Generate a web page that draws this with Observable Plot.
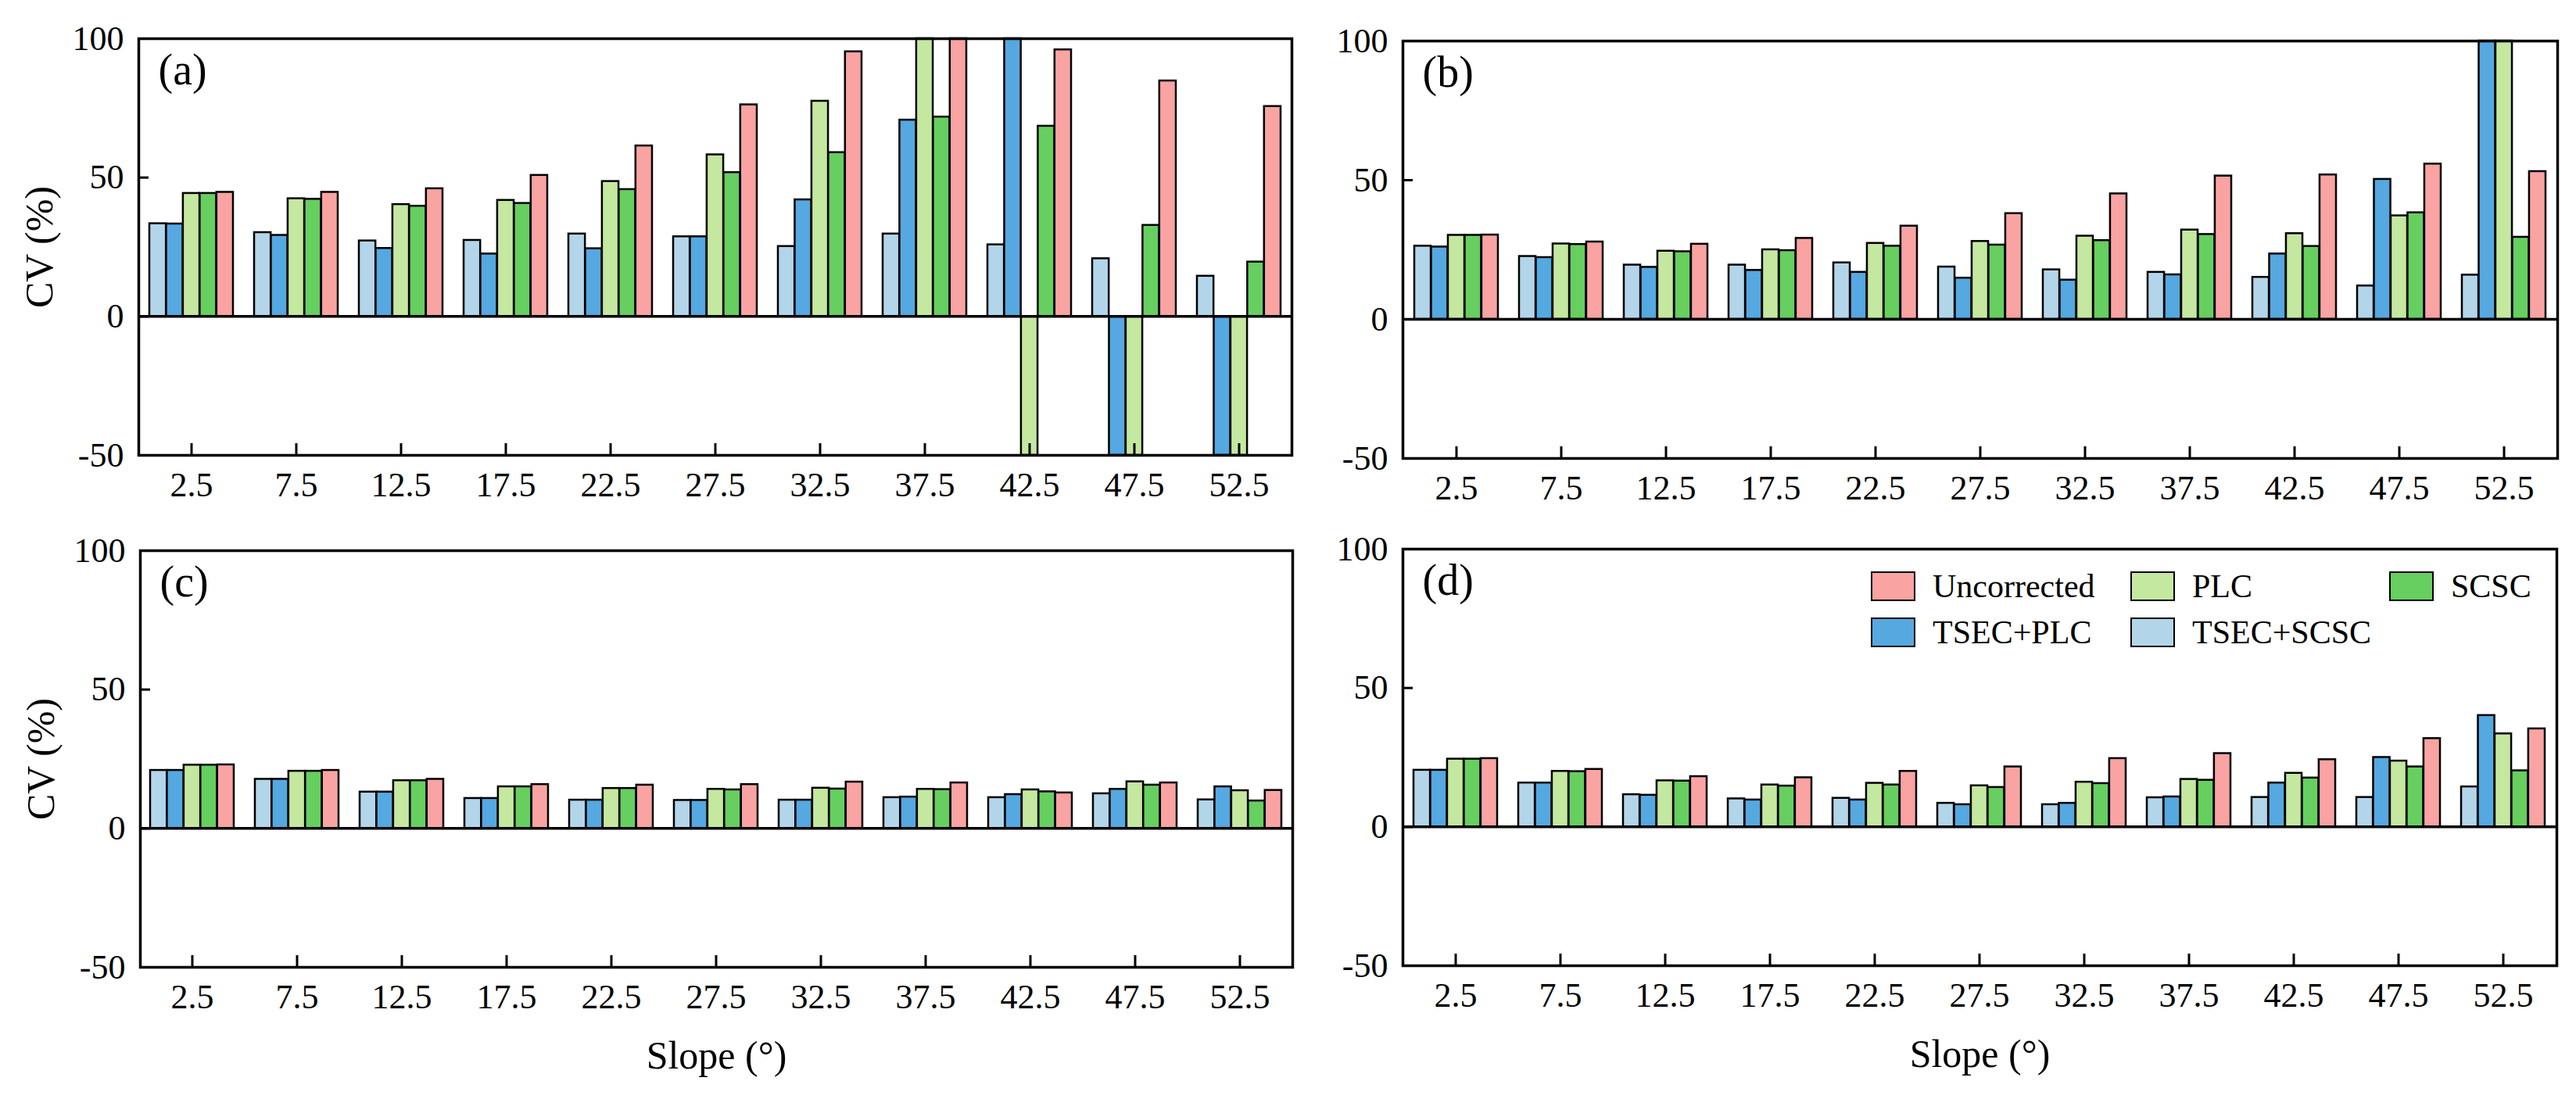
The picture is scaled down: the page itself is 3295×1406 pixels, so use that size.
<!DOCTYPE html>
<html>
<head>
<meta charset="utf-8">
<script src="https://cdn.jsdelivr.net/npm/d3@7"></script>
<script src="https://cdn.jsdelivr.net/npm/@observablehq/plot@0.6"></script>
<style>
  html, body { margin: 0; padding: 0; background: #fff; }
  #root { position: relative; width: 3295px; height: 1406px; overflow: hidden; background: #fff;
          font-family: "Liberation Serif", "Times New Roman", serif; color: #000; }
  .panel { position: absolute; }
  #legend { position: absolute; left: 2393px; top: 731px; display: grid;
            grid-template-columns: 332px 331px 220px; grid-auto-rows: 59px; z-index: 5; }
  .item { display: flex; align-items: center; height: 38px; font-size: 42px; line-height: 38px; white-space: nowrap; }
  .sw { width: 57px; height: 38px; box-sizing: border-box; border: 2.5px solid #000; margin-right: 22px; flex: none; }
</style>
</head>
<body>
<div id="root"></div>
<script>
// ---------- data ----------
const slopes = ["2.5", "7.5", "12.5", "17.5", "22.5", "27.5", "32.5", "37.5", "42.5", "47.5", "52.5"];
const seriesNames = ["TSEC+SCSC", "TSEC+PLC", "PLC", "SCSC", "Uncorrected"];
const seriesColors = ["#b3d5ea", "#55a8e0", "#c5e8a0", "#66cf5f", "#f9a3a3"];
const yTicks = [-50, 0, 50, 100];
const legendOrder = ["Uncorrected", "PLC", "SCSC", "TSEC+PLC", "TSEC+SCSC"];

// panel (a) — values beyond the axis range run off the chart
const aTsecScsc = [33.4, 30.2, 27.2, 27.4, 29.7, 28.7, 25.2, 29.7, 25.8, 20.8, 14.5];
const aTsecPlc  = [33.3, 29.2, 24.5, 22.5, 24.4, 28.7, 42.0, 70.7, 120, -120, -120];
const aPlc      = [44.3, 42.4, 40.3, 41.8, 48.6, 58.2, 77.5, 120, -120, -120, -120];
const aScsc     = [44.3, 42.2, 39.7, 40.7, 45.7, 51.8, 59.0, 71.8, 68.5, 32.8, 19.6];
const aUncorr   = [44.7, 44.7, 46.0, 50.8, 61.4, 76.2, 95.3, 120, 96.0, 84.8, 75.6];

// panel (b)
const bTsecScsc = [26.3, 22.6, 19.5, 19.5, 20.3, 18.8, 17.8, 16.9, 15.1, 12.0, 15.9];
const bTsecPlc  = [26.0, 22.2, 18.7, 17.6, 16.9, 14.8, 14.1, 16.0, 23.5, 50.3, 120];
const bPlc      = [30.2, 27.1, 24.5, 25.0, 27.3, 28.0, 29.9, 32.1, 30.8, 37.2, 120];
const bScsc     = [30.2, 26.9, 24.3, 24.7, 26.3, 26.7, 28.3, 30.5, 26.2, 38.3, 29.5];
const bUncorr   = [30.3, 27.8, 27.0, 29.1, 33.5, 38.0, 45.1, 51.5, 51.9, 55.8, 53.1];

// panel (c)
const cTsecScsc = [20.9, 17.7, 13.1, 10.8, 10.2, 10.1, 10.2, 11.1, 11.1, 12.5, 10.3];
const cTsecPlc  = [20.9, 17.7, 13.1, 10.8, 10.2, 10.1, 10.2, 11.3, 12.2, 14.1, 15.0];
const cPlc      = [22.8, 20.6, 17.2, 15.0, 14.4, 14.1, 14.5, 14.1, 13.9, 16.8, 13.6];
const cScsc     = [22.8, 20.6, 17.2, 15.0, 14.4, 13.9, 14.2, 14.0, 13.2, 15.6, 9.9];
const cUncorr   = [22.9, 20.9, 17.7, 15.8, 15.6, 15.8, 16.7, 16.4, 12.8, 16.4, 13.7];

// panel (d)
const dTsecScsc = [20.4, 15.8, 11.6, 10.1, 10.3, 8.5, 8.0, 10.5, 10.6, 10.6, 14.4];
const dTsecPlc  = [20.4, 15.8, 11.4, 9.7, 9.7, 8.0, 8.5, 10.8, 15.8, 25.0, 40.1];
const dPlc      = [24.4, 20.0, 16.6, 15.1, 15.7, 14.8, 16.1, 17.1, 19.3, 23.7, 33.5];
const dScsc     = [24.4, 19.9, 16.5, 14.7, 15.1, 14.2, 15.6, 16.8, 17.6, 21.6, 20.2];
const dUncorr   = [24.6, 20.7, 18.1, 17.7, 20.0, 21.6, 24.6, 26.4, 24.2, 31.8, 35.3];

// ---------- layout ----------
const panels = [
  {tag: "(a)", series: [aTsecScsc, aTsecPlc, aPlc, aScsc, aUncorr], left: 0, top: 0, width: 1700, height: 680,
   mL: 177, mT: 49, mR: 48, mB: 98, yTitle: true, xTitle: false},
  {tag: "(b)", series: [bTsecScsc, bTsecPlc, bPlc, bScsc, bUncorr], left: 1620, top: 0, width: 1675, height: 680,
   mL: 174, mT: 52, mR: 24, mB: 94, yTitle: false, xTitle: false},
  {tag: "(c)", series: [cTsecScsc, cTsecPlc, cPlc, cScsc, cUncorr], left: 0, top: 680, width: 1700, height: 726,
   mL: 179, mT: 24, mR: 47, mB: 169, yTitle: true, xTitle: true},
  {tag: "(d)", series: [dTsecScsc, dTsecPlc, dPlc, dScsc, dUncorr], left: 1620, top: 680, width: 1675, height: 726,
   mL: 174, mT: 22, mR: 25, mB: 171, yTitle: false, xTitle: true}
];

const root = document.getElementById("root");

function makePanel(p) {
  const frameW = p.width - p.mL - p.mR;
  const frameH = p.height - p.mT - p.mB;
  const step = frameW / 11;        // paddingInner .2, paddingOuter .1
  const bw = step * 0.8;
  const sub = bw / seriesNames.length;

  const marks = [];
  p.series.forEach((vals, i) => {
    const rows = slopes.map((s, j) => ({slope: s, value: vals[j]}));
    marks.push(Plot.barY(rows, {
      x: "slope", y: "value",
      fill: seriesColors[i], stroke: "#000", strokeWidth: 2.5,
      insetLeft: i * sub, insetRight: (seriesNames.length - 1 - i) * sub
    }));
  });
  marks.push(Plot.ruleY([0], {stroke: "#000", strokeWidth: 3.5}));
  marks.push(Plot.tickY(yTicks, {y: d => d, stroke: "#000", strokeWidth: 3, insetRight: frameW - 13}));
  marks.push(Plot.tickX(slopes, {x: d => d, stroke: "#000", strokeWidth: 3, insetTop: frameH - 15}));
  marks.push(Plot.frame({stroke: "#000", strokeWidth: 3.5}));
  marks.push(Plot.axisY({ticks: yTicks, tickSize: 0, tickPadding: 19, fontSize: 44, tickFormat: d => String(d), label: null}));
  marks.push(Plot.axisX({tickSize: 0, tickPadding: 21, fontSize: 44, label: null}));
  marks.push(Plot.text([p.tag], {frameAnchor: "top-left", dx: 25, dy: 19, lineAnchor: "top", textAnchor: "start", fontSize: 56}));
  if (p.yTitle) {
    marks.push(Plot.text(["CV (%)"], {frameAnchor: "left", dx: -127, rotate: -90, textAnchor: "middle", lineAnchor: "middle", fontSize: 50}));
  }
  if (p.xTitle) {
    marks.push(Plot.text(["Slope (°)"], {frameAnchor: "bottom", dy: 113, textAnchor: "middle", lineAnchor: "middle", fontSize: 50}));
  }

  const chart = Plot.plot({
    width: p.width, height: p.height,
    marginLeft: p.mL, marginRight: p.mR, marginTop: p.mT, marginBottom: p.mB,
    style: {fontFamily: "Liberation Serif, Times New Roman, serif", color: "#000", background: "transparent", overflow: "visible"},
    x: {type: "band", domain: slopes, paddingInner: 0.2, paddingOuter: 0.1, axis: null},
    y: {domain: [-50, 100], clamp: true, axis: null},
    marks
  });
  const wrap = document.createElement("div");
  wrap.className = "panel";
  wrap.style.left = p.left + "px";
  wrap.style.top = p.top + "px";
  wrap.appendChild(chart);
  root.appendChild(wrap);
}

panels.forEach(makePanel);

// ---------- legend ----------
const legend = document.createElement("div");
legend.id = "legend";
legendOrder.forEach(name => {
  const item = document.createElement("div");
  item.className = "item";
  const sw = document.createElement("span");
  sw.className = "sw";
  sw.style.background = seriesColors[seriesNames.indexOf(name)];
  const label = document.createElement("span");
  label.textContent = name;
  item.appendChild(sw);
  item.appendChild(label);
  legend.appendChild(item);
});
root.appendChild(legend);
</script>
</body>
</html>
